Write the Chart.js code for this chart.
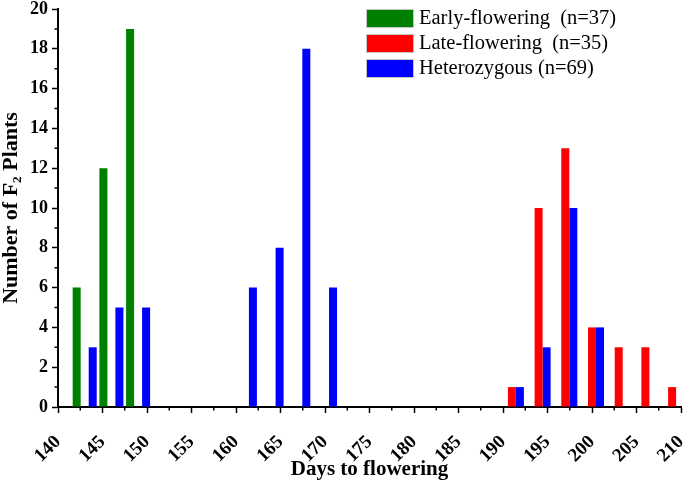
<!DOCTYPE html>
<html><head><meta charset="utf-8">
<script src="https://cdn.jsdelivr.net/npm/chart.js@4"></script>
<style>html,body{margin:0;padding:0;background:#fff}#wrap{width:685px;height:481px}</style>
</head><body><div id="wrap"><canvas id="c" width="685" height="481"></canvas></div>
<script>
// ---- data ----
const days = [143,146,149,152,155,158,161,164,167,170,173,176,179,182,185,188,191,194,197,200,203,206,209];
const early  = [6,12,19,0,0,0,0,0,0,0,0,0,0,0,0,0,0,0,0,0,0,0,0];
const late   = [0,0,0,0,0,0,0,0,0,0,0,0,0,0,0,0,1,10,13,4,3,3,1];
const hetero = [3,5,5,0,0,0,6,8,18,6,0,0,0,0,0,0,1,3,10,4,0,0,0];
const seriesNames = ['Early-flowering  (n=37)', 'Late-flowering  (n=35)', 'Heterozygous (n=69)'];
const seriesColors = ['#008000', '#ff0000', '#0000ff'];
const xTicks = [140,145,150,155,160,165,170,175,180,185,190,195,200,205,210];
const xMinorTicks = [142.5,147.5,152.5,157.5,162.5,167.5,172.5,177.5,182.5,187.5,192.5,197.5,202.5,207.5];
const yTicks = [0,2,4,6,8,10,12,14,16,18,20];
const yMinorTicks = [1,3,5,7,9,11,13,15,17,19];
const xTitle = 'Days to flowering';
const yTitle = 'Number of F\u2082 Plants';

const series = [early, late, hetero];
const datasets = series.map((vals, k) => ({
  label: seriesNames[k],
  data: days.map((d, i) => ({x: d, y: vals[i]})),
  backgroundColor: seriesColors[k],
  borderWidth: 0,
  categoryPercentage: 0.9,
  barPercentage: 1.0
}));

const tickFont = {family: '"Liberation Serif"', weight: 'bold', size: 18};

// minor ticks + rotated x tick labels placed from the x scale
const axisDecorPlugin = {
  id: 'axisDecor',
  afterDraw(chart) {
    const ctx = chart.ctx, xs = chart.scales.x, ys = chart.scales.y;
    ctx.save();
    ctx.strokeStyle = '#000';
    ctx.lineWidth = 1.5;
    ctx.beginPath();
    xMinorTicks.forEach(v => {
      const p = xs.getPixelForValue(v);
      ctx.moveTo(p, ys.bottom); ctx.lineTo(p, ys.bottom + 3.5);
    });
    yMinorTicks.forEach(v => {
      const p = ys.getPixelForValue(v);
      ctx.moveTo(xs.left, p); ctx.lineTo(xs.left - 3.5, p);
    });
    ctx.stroke();
    ctx.fillStyle = '#000';
    ctx.font = 'bold 19px "Liberation Serif"';
    ctx.textAlign = 'right';
    ctx.textBaseline = 'middle';
    xTicks.forEach(v => {
      const p = xs.getPixelForValue(v);
      ctx.save();
      ctx.translate(p, ys.bottom + 32);
      ctx.rotate(-Math.PI / 4);
      ctx.fillText(String(v), 0, 0);
      ctx.restore();
    });
    ctx.restore();
  }
};

const legendPlugin = {
  id: 'boxLegend',
  afterDraw(chart) {
    const ctx = chart.ctx;
    ctx.save();
    ctx.font = '20.5px "Liberation Serif"';
    ctx.textBaseline = 'middle';
    ctx.textAlign = 'left';
    seriesNames.forEach((name, k) => {
      const top = 10 + k * 25;
      ctx.fillStyle = seriesColors[k];
      ctx.fillRect(367, top, 46, 17);
      ctx.strokeStyle = 'rgba(160,160,160,0.6)';
      ctx.lineWidth = 1;
      ctx.strokeRect(366.5, top - 0.5, 47, 18);
      ctx.fillStyle = '#000';
      ctx.fillText(name, 419, top + 9);
    });
    ctx.restore();
  }
};

new Chart(document.getElementById('c'), {
  type: 'bar',
  data: {datasets},
  options: {
    responsive: false,
    devicePixelRatio: 1,
    animation: false,
    layout: {padding: {top: 9, right: 4, left: 0, bottom: 0}},
    plugins: {legend: {display: false}, tooltip: {enabled: false}},
    scales: {
      x: {
        type: 'linear', min: 140, max: 210, offset: false,
        afterBuildTicks: s => { s.ticks = xTicks.map(v => ({value: v})); },
        afterFit: s => { s.height = 74; s.paddingLeft = 0; s.paddingRight = 0; },
        ticks: {display: false, autoSkip: false, maxRotation: 0, minRotation: 0},
        grid: {display: true, drawOnChartArea: false, drawTicks: true, tickLength: 6, tickColor: '#000', tickWidth: 1.5, offset: false},
        border: {color: '#000', width: 2},
        title: {display: true, text: xTitle, color: '#000', font: {family: '"Liberation Serif"', weight: 'bold', size: 21, lineHeight: 1}, padding: {top: 0, bottom: 1}}
      },
      y: {
        min: 0, max: 20,
        afterBuildTicks: s => { s.ticks = yTicks.map(v => ({value: v})); },
        afterFit: s => { s.width = 58; s.paddingTop = 0; s.paddingBottom = 0; },
        ticks: {font: tickFont, color: '#000', padding: 4},
        grid: {display: true, drawOnChartArea: false, drawTicks: true, tickLength: 6, tickColor: '#000', tickWidth: 1.5},
        border: {color: '#000', width: 2},
        title: {display: true, text: yTitle, color: '#000', font: {family: '"Liberation Serif"', weight: 'bold', size: 22, lineHeight: 1}, padding: {top: 0, bottom: 0}}
      }
    }
  },
  plugins: [axisDecorPlugin, legendPlugin]
});
</script></body></html>
